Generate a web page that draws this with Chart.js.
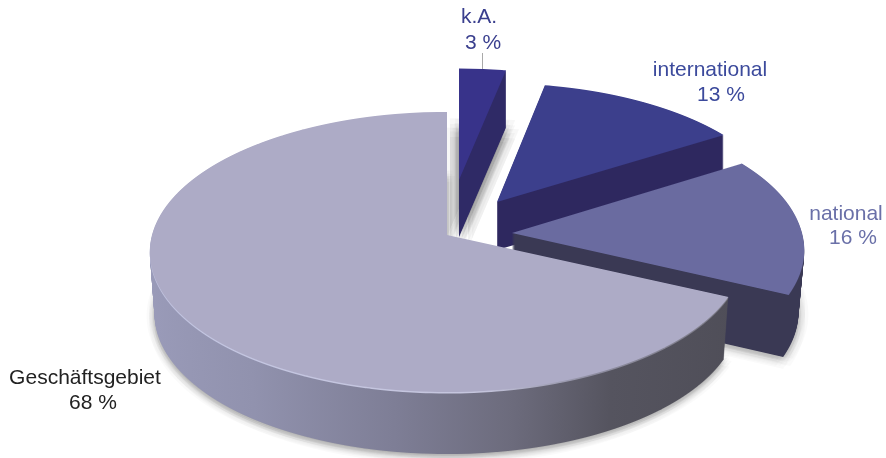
<!DOCTYPE html>
<html lang="de">
<head>
<meta charset="utf-8">
<title>Geschäftsgebiet</title>
<script src="https://cdn.jsdelivr.net/npm/chart.js@4/dist/chart.umd.min.js"></script>
<style>
    html, body { margin: 0; background: #fff; }
    canvas { display: block; }
</style>
</head>
<body>
<canvas id="pie3d" width="886" height="458"></canvas>
<script>
// --- Data ---
const categories = ['k.A.', 'international', 'national', 'Geschäftsgebiet'];
const shares = [3, 13, 16, 68];

// --- Styles ---
const topColors = ['#38338a', '#3c3f8c', '#6a6ba0', '#adabc6'];
const wallStops = [
    [[0, '#2f2a66'], [1, '#2f2a66']],
    [[0, '#2e285f'], [1, '#2e285f']],
    [[0, '#3a3954'], [1, '#3a3954']],
    [[0, '#9a9bb9'], [0.2, '#9192ae'], [0.42, '#7e7e96'], [0.6, '#6c6b7c'], [0.75, '#55545f'], [1, '#4e4d57']]
];
const labelColors = ['#3a3f8e', '#3c4a9c', '#6a70a8', '#222222'];
// name x, name baseline, value x, value baseline
const labelSpots = [
    [479, 23, 483, 49],
    [710, 76, 721, 101],
    [846, 220, 853, 244],
    [85, 384, 93, 409]
];
// perspective strength of the tilted discs
const tilt = 0.1214;
// each slice sits on its own disc, cx/cy is where its tip ends up
const discs = [
    { cx: 459, cy: 180, rx: 281, ry: 125, depth: 57, taper: 0, spread: 13, alpha: 0.03 },
    { cx: 497, cy: 202, rx: 286, ry: 133, depth: 48, taper: 0, spread: 0, alpha: 0 },
    { cx: 512, cy: 233, rx: 290, ry: 138, depth: 62, taper: 0.02, spread: 10, alpha: 0.02 },
    { cx: 447, cy: 235, rx: 295, ry: 138, depth: 62, taper: 0.016, spread: 8, alpha: 0.02 }
];

// vertical extent of an arc on the unit circle, 0 being the tip
function arcSpan(arc) {
    let lo = 0, hi = 0;
    for (let i = 0; i <= 60; i++) {
        const v = Math.sin(arc.startAngle + (arc.endAngle - arc.startAngle) * i / 60);
        lo = Math.min(lo, v);
        hi = Math.max(hi, v);
    }
    return [lo, hi];
}

// Canvas has no perspective transform, so the arc is drawn row by row,
// each pixel row with the scale the perspective wants there.
function paintArc(ctx, chart, arc, disc, shift, fill) {
    const rx = disc.rx * (1 - disc.taper * shift / disc.depth);
    const ry = disc.ry;
    const r = arc.outerRadius;
    const cy = disc.cy + shift;
    const [lo, hi] = arcSpan(arc);
    const first = Math.floor(cy + ry * lo / (1 - tilt * lo));
    const last = Math.ceil(cy + ry * hi / (1 - tilt * hi));

    const saved = arc.options;
    arc.options = { ...saved, backgroundColor: fill, borderWidth: 0 };
    for (let row = first; row <= last; row++) {
        const mid = row + 0.5;
        const v = (mid - cy) / (ry + tilt * (mid - cy));
        const w = 1 - tilt * v;
        ctx.save();
        ctx.beginPath();
        ctx.rect(0, row, chart.width, 1);
        ctx.clip();
        ctx.translate(disc.cx, mid);
        ctx.scale(rx / w / r, ry / (w * w) / r);
        ctx.translate(-arc.x, -(arc.y + v * r));
        arc.draw(ctx);
        ctx.restore();
    }
    arc.options = saved;
}

// floor shadow: faint copies of the bottom face stamped in rings around it,
// ctx.shadowBlur would get cut off by the row clipping above
function paintShadow(ctx, chart, arc, disc) {
    const fill = `rgba(0, 0, 0, ${disc.alpha})`;
    for (let ring = 1; ring <= 4; ring++) {
        for (let spoke = 0; spoke < 8; spoke++) {
            const angle = (spoke + ring / 2) * Math.PI / 4;
            const reach = disc.spread * ring / 4;
            const stamp = {
                ...disc,
                cx: disc.cx + Math.cos(angle) * reach,
                cy: disc.cy + 2 + Math.sin(angle) * reach
            };
            paintArc(ctx, chart, arc, stamp, disc.depth, fill);
        }
    }
}

function sideFill(ctx, arc, stops) {
    const g = ctx.createLinearGradient(arc.x - arc.outerRadius, 0, arc.x + arc.outerRadius, 0);
    stops.forEach(([at, color]) => g.addColorStop(at, color));
    return g;
}

const pie3dPlugin = {
    id: 'pie3d',
    beforeDatasetsDraw(chart) {
        const ctx = chart.ctx;
        const arcs = chart.getDatasetMeta(0).data;

        arcs.forEach((arc, i) => {
            const disc = discs[i];
            const wall = sideFill(ctx, arc, wallStops[i]);

            if (disc.spread) paintShadow(ctx, chart, arc, disc);
            for (let shift = disc.depth; shift > 0; shift--) {
                paintArc(ctx, chart, arc, disc, shift, wall);
            }
            if (i === 3) {
                // thin bright bevel on the front rim
                paintArc(ctx, chart, arc, disc, 1.5, sideFill(ctx, arc, [
                    [0, '#c2c5e2'], [0.55, '#c6c6de'], [0.72, '#8d8c9f'], [1, '#77767f']
                ]));
            }
            paintArc(ctx, chart, arc, disc, 0, topColors[i]);
        });
        return false; // arcs are done, skip the flat pie
    },
    afterDraw(chart) {
        const ctx = chart.ctx;
        ctx.save();

        // leader line of the small slice
        ctx.strokeStyle = '#a9a9a9';
        ctx.lineWidth = 1;
        ctx.beginPath();
        ctx.moveTo(482.5, 53);
        ctx.lineTo(482.5, 69);
        ctx.stroke();

        ctx.font = '21px "Liberation Sans", Arial, sans-serif';
        ctx.textAlign = 'center';
        ctx.textBaseline = 'alphabetic';
        categories.forEach((name, i) => {
            const [nameX, nameY, valueX, valueY] = labelSpots[i];
            ctx.fillStyle = labelColors[i];
            ctx.fillText(name, nameX, nameY);
            ctx.fillText(`${shares[i]} %`, valueX, valueY);
        });
        ctx.restore();
    }
};

new Chart(document.getElementById('pie3d'), {
    type: 'pie',
    data: {
        labels: categories,
        datasets: [{ data: shares, backgroundColor: topColors, borderWidth: 0 }]
    },
    options: {
        responsive: false,
        animation: false,
        events: [],
        plugins: {
            legend: { display: false },
            tooltip: { enabled: false }
        }
    },
    plugins: [pie3dPlugin]
});
</script>
</body>
</html>
